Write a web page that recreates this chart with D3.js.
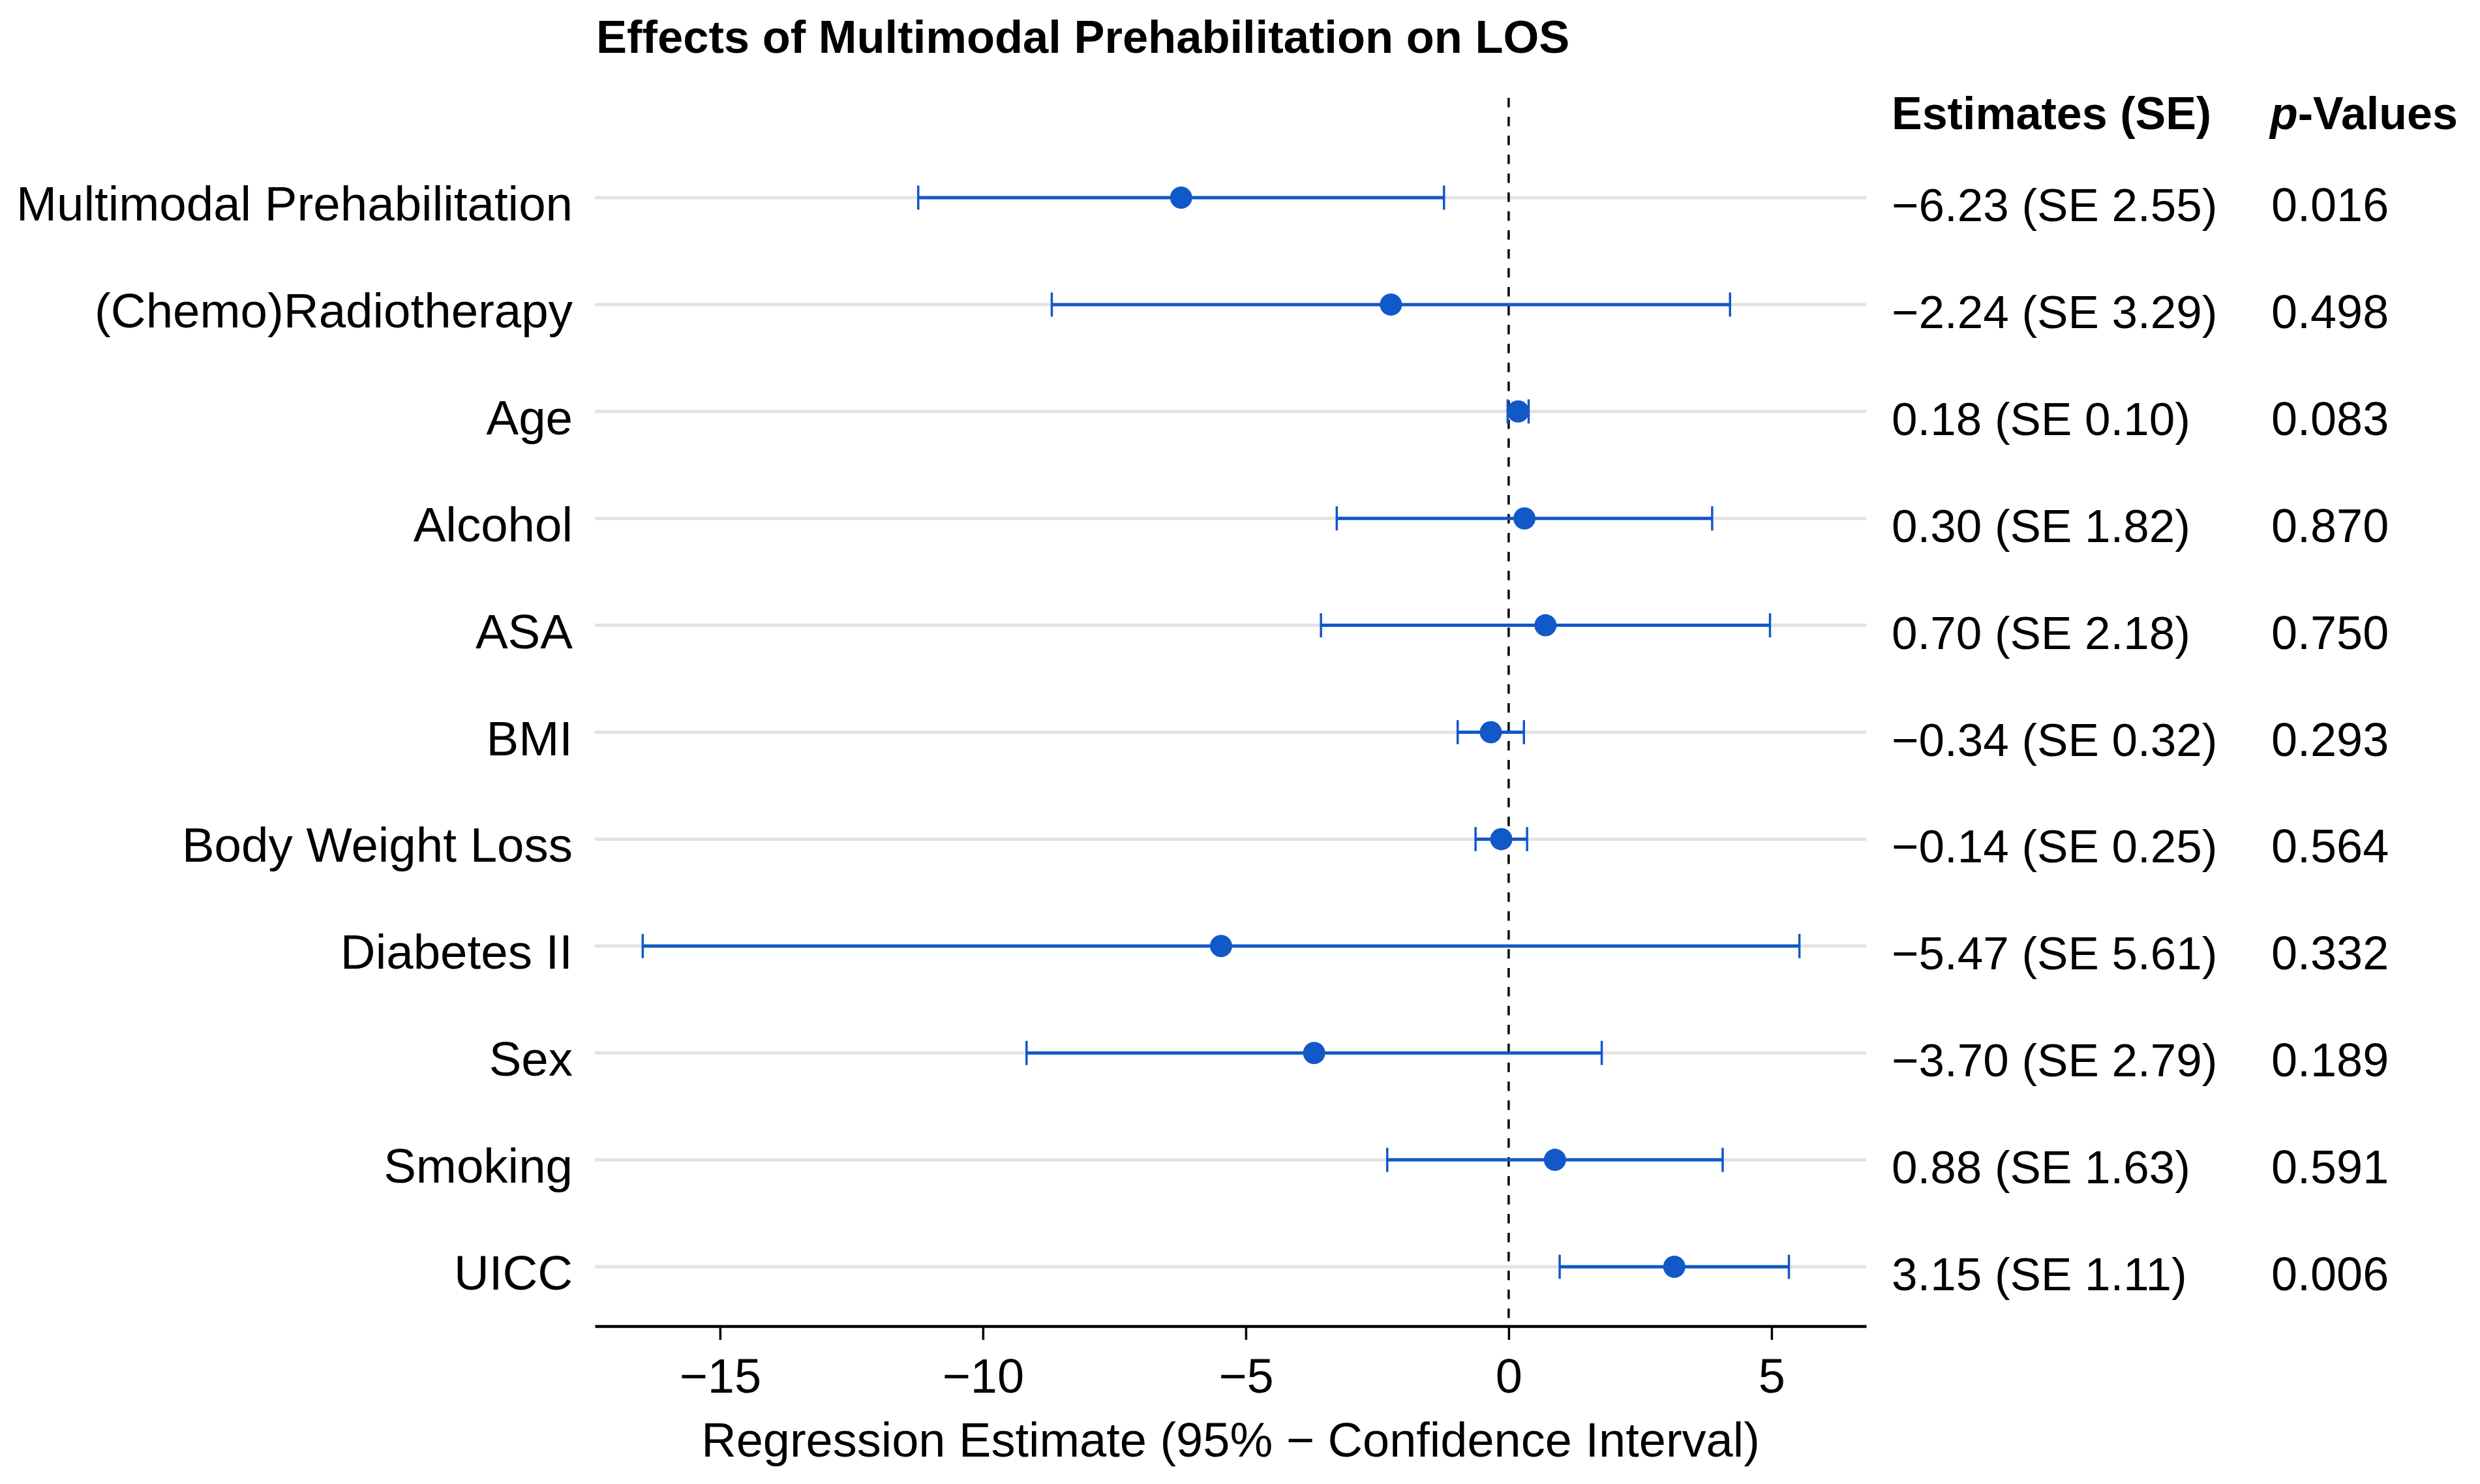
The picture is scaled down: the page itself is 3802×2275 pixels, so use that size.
<!DOCTYPE html>
<html>
<head>
<meta charset="utf-8">
<script src="https://cdn.jsdelivr.net/npm/d3@7"></script>
<style>
  html, body { margin: 0; padding: 0; background: #fff; }
  svg { display: block; }
  text { font-family: "Liberation Sans", Arial, Helvetica, sans-serif; fill: #000; }
</style>
</head>
<body>
<svg id="chart" width="3802" height="2275"></svg>
<script>
// ---- data ----
const categories = ["Multimodal Prehabilitation", "(Chemo)Radiotherapy", "Age", "Alcohol", "ASA", "BMI",
  "Body Weight Loss", "Diabetes II", "Sex", "Smoking", "UICC"];
const estimates = [-6.23, -2.24, 0.18, 0.30, 0.70, -0.34, -0.14, -5.47, -3.70, 0.88, 3.15];
const stdErrors = [2.55, 3.29, 0.10, 1.82, 2.18, 0.32, 0.25, 5.61, 2.79, 1.63, 1.11];
const ciLower = [-11.23, -8.69, -0.02, -3.27, -3.57, -0.97, -0.63, -16.47, -9.17, -2.31, 0.97];
const ciUpper = [-1.23, 4.21, 0.38, 3.87, 4.97, 0.29, 0.35, 5.53, 1.77, 4.07, 5.33];
const pValues = ["0.016", "0.498", "0.083", "0.870", "0.750", "0.293", "0.564", "0.332", "0.189", "0.591", "0.006"];
const xTicks = [-15, -10, -5, 0, 5];

const rows = categories.map((c, i) => ({
  name: c, est: estimates[i], se: stdErrors[i], lo: ciLower[i], hi: ciUpper[i], p: pValues[i]
}));

// ---- layout ----
const blue = "#1158c8";
const svg = d3.select("#chart");
const x = d3.scaleLinear().domain([-17.38, 6.8]).range([912, 2861]);
const y = d3.scalePoint().domain(categories).range([303, 1942]);
const axisY = 2033;
const fmt = v => (v < 0 ? "\u2212" : "") + Math.abs(v).toFixed(2);

// title
svg.append("text").attr("x", 914).attr("y", 81)
  .attr("font-size", 70.5).attr("font-weight", "bold")
  .text("Effects of Multimodal Prehabilitation on LOS");

// headers
svg.append("text").attr("x", 2900).attr("y", 198)
  .attr("font-size", 70).attr("font-weight", "bold").text("Estimates (SE)");
const pv = svg.append("text").attr("x", 3480).attr("y", 198)
  .attr("font-size", 70).attr("font-weight", "bold");
pv.append("tspan").attr("font-style", "italic").text("p");
pv.append("tspan").text("-Values");

// gridlines
svg.append("g").selectAll("line").data(rows).join("line")
  .attr("x1", x.range()[0]).attr("x2", x.range()[1])
  .attr("y1", d => y(d.name)).attr("y2", d => y(d.name))
  .attr("stroke", "#e3e3e3").attr("stroke-width", 5);

// zero reference line
svg.append("line")
  .attr("x1", x(0)).attr("x2", x(0)).attr("y1", 150).attr("y2", axisY)
  .attr("stroke", "#000").attr("stroke-width", 3.5).attr("stroke-dasharray", "14.5,14.5");

// x axis
const axis = svg.append("g").attr("transform", `translate(0,${axisY})`)
  .call(d3.axisBottom(x).tickValues(xTicks).tickSize(21).tickSizeOuter(0).tickPadding(28)
    .tickFormat(d => (d < 0 ? "\u2212" : "") + Math.abs(d)));
axis.select(".domain").attr("stroke", "#000").attr("stroke-width", 4.5);
axis.selectAll(".tick line").attr("stroke", "#000").attr("stroke-width", 3.5);
axis.selectAll(".tick text").attr("font-size", 74)
  .attr("font-family", "'Liberation Sans', Arial, Helvetica, sans-serif").attr("fill", "#000");

svg.append("text").attr("x", (x.range()[0] + x.range()[1]) / 2).attr("y", 2233)
  .attr("text-anchor", "middle").attr("font-size", 74)
  .text("Regression Estimate (95% \u2212 Confidence Interval)");

// error bars
const eb = svg.append("g");
eb.selectAll("line.ci").data(rows).join("line").attr("class", "ci")
  .attr("x1", d => x(d.lo)).attr("x2", d => x(d.hi))
  .attr("y1", d => y(d.name)).attr("y2", d => y(d.name))
  .attr("stroke", blue).attr("stroke-width", 5);
["lo", "hi"].forEach(k => {
  eb.selectAll("line.cap-" + k).data(rows).join("line").attr("class", "cap-" + k)
    .attr("x1", d => x(d[k])).attr("x2", d => x(d[k]))
    .attr("y1", d => y(d.name) - 18.5).attr("y2", d => y(d.name) + 18.5)
    .attr("stroke", blue).attr("stroke-width", 3.5);
});
eb.selectAll("circle").data(rows).join("circle")
  .attr("cx", d => x(d.est)).attr("cy", d => y(d.name)).attr("r", 17)
  .attr("fill", blue);

// row labels
svg.append("g").selectAll("text").data(rows).join("text")
  .attr("x", 878).attr("y", d => y(d.name) + 35)
  .attr("text-anchor", "end").attr("font-size", 74.5)
  .text(d => d.name);

// estimates column
svg.append("g").selectAll("text").data(rows).join("text")
  .attr("x", 2900).attr("y", d => y(d.name) + 36)
  .attr("font-size", 71)
  .text(d => `${fmt(d.est)} (SE ${d.se.toFixed(2)})`);

// p-values column
svg.append("g").selectAll("text").data(rows).join("text")
  .attr("x", 3482).attr("y", d => y(d.name) + 36)
  .attr("font-size", 72)
  .text(d => d.p);
</script>
</body>
</html>
